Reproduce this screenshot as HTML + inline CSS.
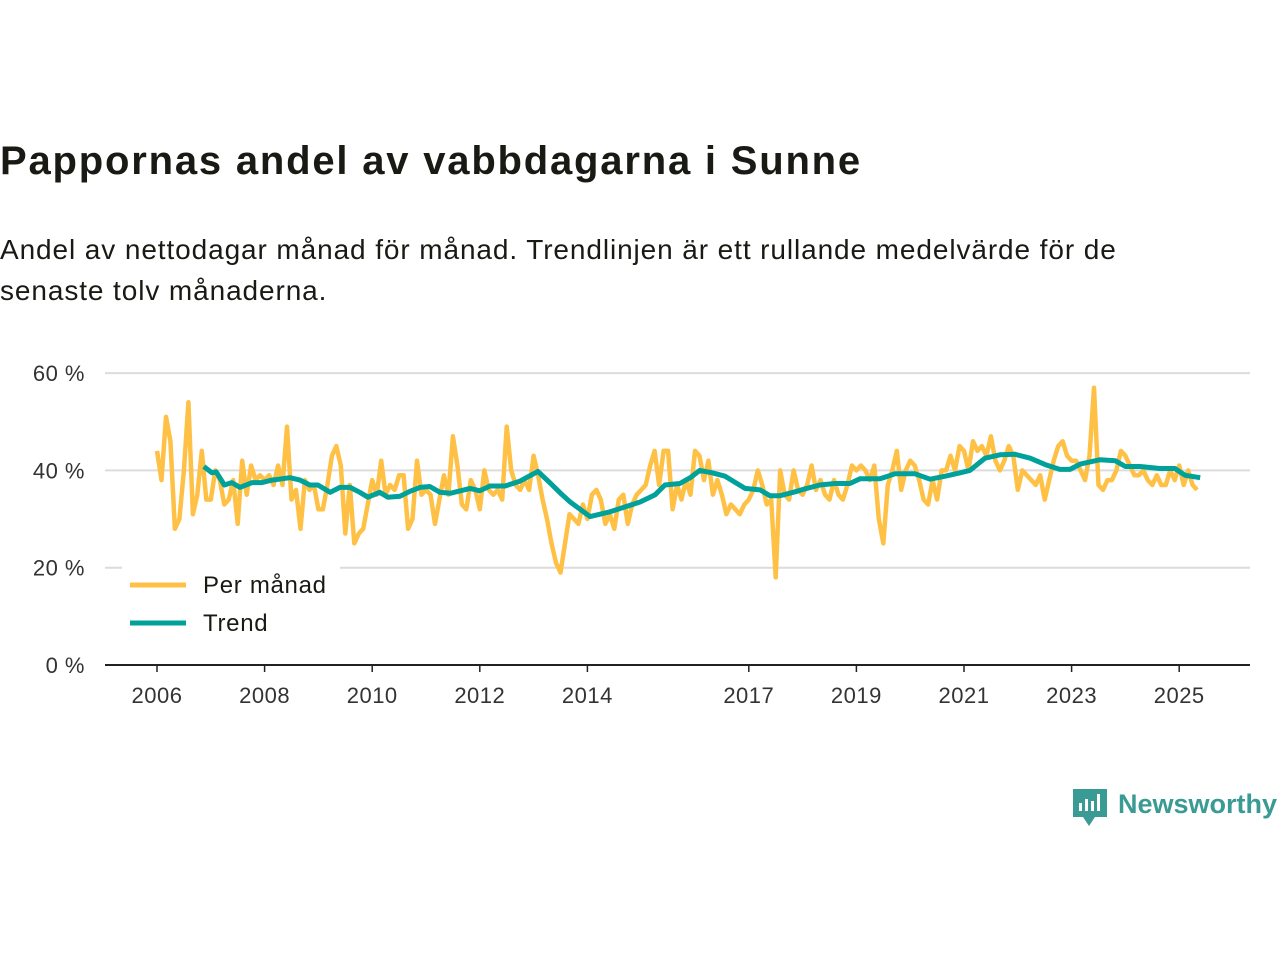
<!DOCTYPE html>
<html><head><meta charset="utf-8"><style>
body{margin:0;background:#fff;font-family:"Liberation Sans",sans-serif;}
#wrap{position:relative;width:1280px;height:960px;overflow:hidden;}
h1{position:absolute;left:0;top:139px;margin:0;font-size:40px;font-weight:bold;color:#1a1a14;letter-spacing:1.8px;}
p.sub{position:absolute;left:0;top:229px;margin:0;font-size:28px;line-height:41px;color:#1a1a14;width:1225px;letter-spacing:0.9px;}
</style></head><body><div id="wrap">
<h1>Pappornas andel av vabbdagarna i Sunne</h1>
<p class="sub">Andel av nettodagar månad för månad. Trendlinjen är ett rullande medelvärde för de senaste tolv månaderna.</p>
<svg id="chart" width="1280" height="960" style="position:absolute;left:0;top:0"></svg>
</div>
<script>
const monthly = [
44,38,51,46,28,30,40,54,31,35,44,34,
34,40,38,33,34,38,29,42,35,41,38,39,
38,39,37,41,37,49,34,36,28,38,36,37,
32,32,37,43,45,41,27,37,25,27,28,33,
38,35,42,35,37,36,39,39,28,30,42,35,
36,35,29,34,39,35,47,41,33,32,38,36,
32,40,36,35,36,34,49,40,37,36,38,36,
43,39,34,30,25,21,19,25,31,30,29,33,
30,35,36,34,29,31,28,34,35,29,33,35,
36,37,41,44,37,44,44,32,37,34,38,35,
44,43,38,42,35,38,35,31,33,32,31,33,
34,36,40,37,33,34,18,40,35,34,40,36,
35,37,41,36,38,35,34,38,35,34,37,41,
40,41,40,38,41,30,25,37,40,44,36,40,
42,41,38,34,33,38,34,40,40,43,40,45,
44,40,46,44,45,43,47,42,40,42,45,43,
36,40,39,38,37,39,34,38,42,45,46,43,
42,42,40,38,43,57,37,36,38,38,40,44,
43,41,39,39,40,38,37,39,37,37,40,38,
41,37,40,37,36];
const trendYears = [2006.87,2007.02,2007.10,2007.25,2007.39,2007.54,2007.77,2007.95,2008.14,2008.47,2008.66,2008.84,2008.99,2009.22,2009.40,2009.59,2009.77,2009.92,2010.14,2010.29,2010.52,2010.70,2010.89,2011.07,2011.26,2011.45,2011.82,2012.00,2012.19,2012.47,2012.75,2013.08,2013.30,2013.53,2013.68,2014.05,2014.42,2014.70,2014.98,2015.26,2015.44,2015.72,2015.91,2016.09,2016.32,2016.56,2016.93,2017.21,2017.39,2017.58,2017.86,2018.04,2018.32,2018.60,2018.88,2019.07,2019.44,2019.72,2020.09,2020.37,2020.65,2020.93,2021.11,2021.39,2021.67,2021.95,2022.23,2022.51,2022.78,2022.97,2023.16,2023.53,2023.81,2024.00,2024.27,2024.64,2024.92,2025.11,2025.39];
const trendValues = [40.8,39.5,39.7,37,37.5,36.5,37.5,37.5,38,38.5,38,37,37,35.5,36.5,36.5,35.5,34.5,35.5,34.5,34.7,35.7,36.5,36.7,35.5,35.3,36.3,35.8,36.8,36.8,37.8,39.8,37.5,35,33.5,30.5,31.5,32.5,33.5,35,37,37.3,38.5,40,39.5,38.8,36.3,36,34.8,34.8,35.6,36.2,37,37.3,37.3,38.3,38.3,39.3,39.3,38.2,38.8,39.5,40,42.5,43.2,43.3,42.5,41.2,40.2,40.2,41.3,42.2,42,40.8,40.8,40.4,40.4,39,38.5];
const yTicks = [0,20,40,60];
const xTickYears = [2006,2008,2010,2012,2014,2017,2019,2021,2023,2025];

const NS="http://www.w3.org/2000/svg";
const svg=document.getElementById('chart');
const x = yr => 157 + (yr-2006)*53.8;
const y = v => 665 - v*4.865;
function mk(tag,attrs){const e=document.createElementNS(NS,tag);for(const k in attrs)e.setAttribute(k,attrs[k]);svg.appendChild(e);return e;}

yTicks.forEach(t=>{
  if(t>0){const g=mk('line',{x1:105,x2:1250,y1:y(t),y2:y(t),stroke:'#dcdcdc','stroke-width':2});
  
  }
  const l=mk('text',{x:85,y:y(t)+8,'text-anchor':'end','font-size':22,fill:'#333','font-family':'Liberation Sans, sans-serif','letter-spacing':'0.5'});
  l.textContent=t+' %';
  
  
});
const ax=mk('line',{x1:105,x2:1250,y1:665,y2:665,stroke:'#222','stroke-width':2});


xTickYears.forEach(yr=>{
  const tk=mk('line',{x1:x(yr),x2:x(yr),y1:665,y2:672,stroke:'#222','stroke-width':1.5});
  
  
  const l=mk('text',{x:x(yr),y:703,'text-anchor':'middle','font-size':22,fill:'#333','font-family':'Liberation Sans, sans-serif','letter-spacing':'0.5'});
  l.textContent=yr;
  
  
});
const mp=monthly.map((v,i)=>x(2006+i/12).toFixed(1)+','+y(v).toFixed(1)).join(' ');
const ml=mk('polyline',{points:mp,fill:'none',stroke:'#ffc145','stroke-width':4.5,'stroke-linejoin':'round'});


const tp=trendYears.map((yr,i)=>x(yr).toFixed(1)+','+y(trendValues[i]).toFixed(1)).join(' ');
const tl=mk('polyline',{points:tp,fill:'none',stroke:'#00a19a','stroke-width':5,'stroke-linejoin':'round'});


const lb=mk('rect',{x:122,y:565,width:218,height:80,fill:'#fff'});


[['Per månad','#ffc145',585],['Trend','#00a19a',623]].forEach(([n,c,yy])=>{
  const s=mk('line',{x1:130,x2:186,y1:yy,y2:yy,stroke:c,'stroke-width':5});
  
  
  const t=mk('text',{x:203,y:yy+8,'font-size':24,fill:'#1a1a14','font-family':'Liberation Sans, sans-serif','letter-spacing':'0.7'});
  t.textContent=n;
  
  
});
const lg=mk('g',{});


lg.innerHTML='<path d="M1073 789 h34 v28 h-12 l-6 9 l-6 -9 h-10 z" fill="#3a9a94"/><rect x="1079" y="803" width="3" height="8" fill="#fff"/><rect x="1085" y="799" width="3" height="12" fill="#fff"/><rect x="1091" y="801" width="3" height="10" fill="#fff"/><rect x="1097" y="794" width="3" height="17" fill="#fff"/><text x="1118" y="813" font-size="27" font-weight="bold" fill="#3a9a94" font-family="Liberation Sans, sans-serif">Newsworthy</text>';
</script></body></html>
